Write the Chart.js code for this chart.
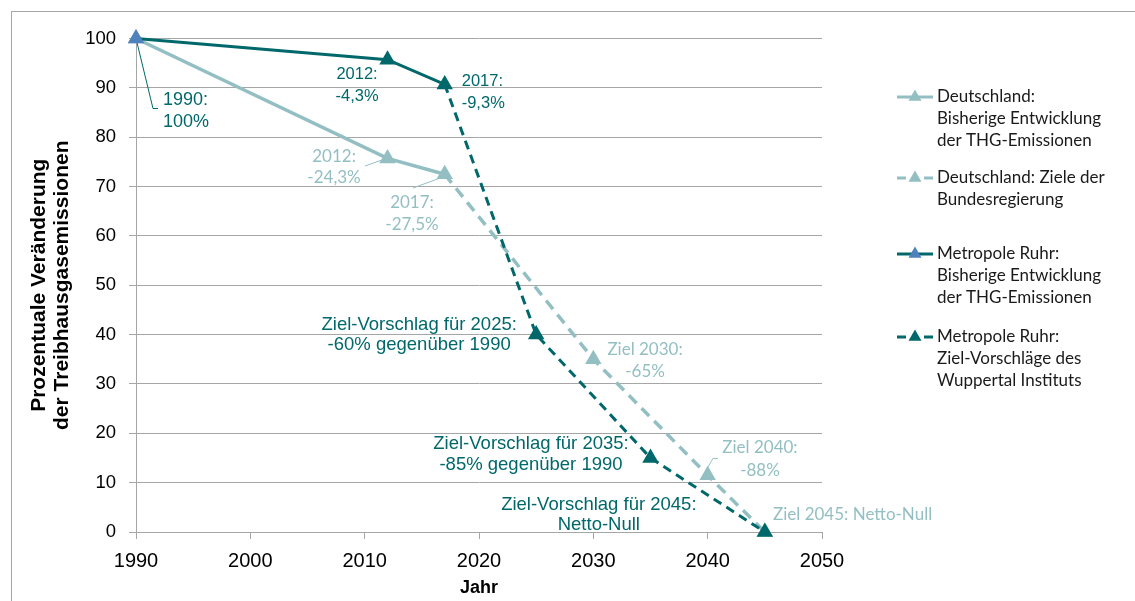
<!DOCTYPE html>
<html>
<head>
<meta charset="utf-8">
<script src="https://cdn.jsdelivr.net/npm/chart.js@4/dist/chart.umd.min.js"></script>
<style>
    html, body { margin: 0; padding: 0; background: #fff; }
    #wrap { position: relative; width: 1135px; height: 601px; }
    #frame { position: absolute; left: 11px; top: 11px; right: -5px; bottom: -5px;
             border-top: 1px solid #a6a6a6; border-left: 1px solid #a6a6a6; }
</style>
</head>
<body>
<div id="wrap">
    <div id="frame"></div>
    <canvas id="chart" width="1135" height="601"></canvas>
</div>
<script>
// Daten (Prozent gegenüber 1990)
const deHistYears   = [1990, 2012, 2017];
const deHistValues  = [100, 75.7, 72.5];
const deZielYears   = [2017, 2030, 2040, 2045];
const deZielValues  = [72.5, 35, 11.5, 0];
const ruhrHistYears  = [1990, 2012, 2017];
const ruhrHistValues = [100, 95.7, 90.7];
const ruhrZielYears  = [2017, 2025, 2035, 2045];
const ruhrZielValues = [90.7, 40, 15, 0];

const xTicks = [1990, 2000, 2010, 2020, 2030, 2040, 2050];
const yTicks = [0, 10, 20, 30, 40, 50, 60, 70, 80, 90, 100];

const legendTexts = [
    ["Deutschland:", "Bisherige Entwicklung", "der THG-Emissionen"],
    ["Deutschland: Ziele der", "Bundesregierung"],
    ["Metropole Ruhr:", "Bisherige Entwicklung", "der THG-Emissionen"],
    ["Metropole Ruhr:", "Ziel-Vorschläge des", "Wuppertal Instituts"]
];

const DARK = "#00686b";
const LIGHT = "#93bfc3";
const BLUE = "#4f81bd";

function toPoints(xs, ys) {
    return xs.map((x, i) => ({ x: x, y: ys[i] }));
}

// Beschriftungen: Ankerpunkt (Jahr, Wert), Versatz in Pixeln
const labels = [
    { x: 1990, y: 100, lines: ["1990:", "100%"], dx: 27, dy: [61.5, 83.5], align: "left", color: DARK, font: "18px 'Liberation Sans'",
      leader: [[0, 0], [17, 70], [22, 70]] },
    { x: 2012, y: 95.7, lines: ["2012:", "-4,3%"], dx: -30.5, dy: [15, 37], align: "center", color: DARK, font: "16.5px 'Liberation Sans'" },
    { x: 2017, y: 90.7, lines: ["2017:", "-9,3%"], dx: 17, dy: [-3, 19], align: "left", color: DARK, font: "16.5px 'Liberation Sans'" },
    { x: 2012, y: 75.7, lines: ["2012:", "-24,3%"], dx: -53.5, dy: [-1.5, 19.5], align: "center", color: LIGHT, font: "17px Lato",
      leader: [[-22.5, 7.6], [-4, 1]] },
    { x: 2017, y: 72.5, lines: ["2017:", "-27,5%"], dx: -32.7, dy: [28.8, 50.8], align: "center", color: LIGHT, font: "17px Lato",
      leader: [[-31.7, 13.8], [-1, 2.5]] },
    { x: 2025, y: 40, lines: ["Ziel-Vorschlag für 2025:", "-60% gegenüber 1990"], dx: -117, dy: [-9.6, 10.4], align: "center", color: DARK, font: "18.5px 'Liberation Sans'" },
    { x: 2035, y: 15, lines: ["Ziel-Vorschlag für 2035:", "-85% gegenüber 1990"], dx: -119.5, dy: [-14, 7], align: "center", color: DARK, font: "18.5px 'Liberation Sans'" },
    { x: 2045, y: 0, lines: ["Ziel-Vorschlag für 2045:", "Netto-Null"], dx: -166, dy: [-27, -7], align: "center", color: DARK, font: "18.5px 'Liberation Sans'" },
    { x: 2030, y: 35, lines: ["Ziel 2030:", "-65%"], dx: 51.7, dy: [-9.3, 12.7], align: "center", color: LIGHT, font: "17px Lato" },
    { x: 2040, y: 11.5, lines: ["Ziel 2040:", "-88%"], dx: 52.3, dy: [-27.8, -4.8], align: "center", color: LIGHT, font: "17px Lato",
      leader: [[-2.7, -3], [5.3, -16.8], [10.3, -16.8]] },
    { x: 2045, y: 0, lines: ["Ziel 2045: Netto-Null"], dx: 8.2, dy: [-17], align: "left", color: LIGHT, font: "17px Lato" }
];

const annotationPlugin = {
    id: "annotations",
    beforeDatasetsDraw(chart) {
        // Hilfslinien unter den Markern
        const ctx = chart.ctx;
        const xs = chart.scales.x;
        const ys = chart.scales.y;
        ctx.save();
        labels.forEach(l => {
            if (!l.leader) return;
            const px = xs.getPixelForValue(l.x);
            const py = ys.getPixelForValue(l.y);
            ctx.strokeStyle = l.color;
            ctx.lineWidth = 1;
            ctx.beginPath();
            l.leader.forEach((p, i) => {
                if (i === 0) ctx.moveTo(px + p[0], py + p[1]);
                else ctx.lineTo(px + p[0], py + p[1]);
            });
            ctx.stroke();
        });
        ctx.restore();
    },
    afterDatasetsDraw(chart) {
        const ctx = chart.ctx;
        const xs = chart.scales.x;
        const ys = chart.scales.y;
        ctx.save();
        labels.forEach(l => {
            const px = xs.getPixelForValue(l.x);
            const py = ys.getPixelForValue(l.y);
            ctx.font = l.font;
            ctx.fillStyle = l.color;
            ctx.textAlign = l.align;
            ctx.textBaseline = "middle";
            l.lines.forEach((t, i) => ctx.fillText(t, px + l.dx, py + l.dy[i]));
        });
        ctx.restore();
    }
};

const legendPlugin = {
    id: "sideLegend",
    afterDraw(chart) {
        const ctx = chart.ctx;
        const rows = [97, 178, 254, 337];
        ctx.save();
        chart.data.datasets.forEach((ds, i) => {
            const y = rows[i];
            ctx.strokeStyle = ds.borderColor;
            ctx.lineWidth = 3;
            ctx.beginPath();
            if (ds.borderDash && ds.borderDash.length) {
                ctx.moveTo(897, y); ctx.lineTo(906, y);
                ctx.moveTo(924, y); ctx.lineTo(933, y);
            } else {
                ctx.moveTo(897, y); ctx.lineTo(933, y);
            }
            ctx.stroke();
            const mc = i === 2 ? BLUE : ds.borderColor;
            const r = 7.5;
            ctx.fillStyle = mc;
            ctx.beginPath();
            ctx.moveTo(915, y - r);
            ctx.lineTo(915 + r * 0.866, y + r * 0.5);
            ctx.lineTo(915 - r * 0.866, y + r * 0.5);
            ctx.closePath();
            ctx.fill();
            ctx.font = "17px Lato";
            ctx.fillStyle = "#1a1a1a";
            ctx.textAlign = "left";
            ctx.textBaseline = "middle";
            legendTexts[i].forEach((t, k) => ctx.fillText(t, 937, y + k * 22));
        });
        ctx.restore();
    }
};

new Chart(document.getElementById("chart"), {
    type: "line",
    data: {
        datasets: [
            {
                label: "Deutschland: Bisherige Entwicklung der THG-Emissionen",
                data: toPoints(deHistYears, deHistValues),
                borderColor: LIGHT, backgroundColor: LIGHT,
                borderWidth: 3.5, pointStyle: "triangle", pointRadius: 9.5,
                pointBorderWidth: 0, order: 2, clip: false
            },
            {
                label: "Deutschland: Ziele der Bundesregierung",
                data: toPoints(deZielYears, deZielValues),
                borderColor: LIGHT, backgroundColor: LIGHT,
                borderWidth: 3.5, borderDash: [11, 7], pointStyle: "triangle",
                pointRadius: [0, 9.5, 9.5, 9.5], pointBorderWidth: 0, order: 3, clip: false
            },
            {
                label: "Metropole Ruhr: Bisherige Entwicklung der THG-Emissionen",
                data: toPoints(ruhrHistYears, ruhrHistValues),
                borderColor: DARK, backgroundColor: DARK,
                pointBackgroundColor: [BLUE, DARK, DARK],
                borderWidth: 3, pointStyle: "triangle", pointRadius: 9.5,
                pointBorderWidth: 0, order: 0, clip: false
            },
            {
                label: "Metropole Ruhr: Ziel-Vorschläge des Wuppertal Instituts",
                data: toPoints(ruhrZielYears, ruhrZielValues),
                borderColor: DARK, backgroundColor: DARK,
                borderWidth: 3, borderDash: [9, 6], pointStyle: "triangle",
                pointRadius: [0, 9.5, 9.5, 9.5], pointBorderWidth: 0, order: 1, clip: false
            }
        ]
    },
    options: {
        responsive: false,
        animation: false,
        events: [],
        layout: { padding: { left: 23.5, top: 38.5, right: 313, bottom: 0 } },
        plugins: {
            legend: { display: false },
            tooltip: { enabled: false }
        },
        scales: {
            x: {
                type: "linear",
                min: 1990, max: 2050,
                afterBuildTicks: s => { s.ticks = xTicks.map(v => ({ value: v })); },
                afterFit: s => { s.height = 69; },
                ticks: {
                    callback: v => String(v),
                    color: "#000",
                    font: { family: "'Liberation Sans'", size: 20 },
                    padding: 10,
                    maxRotation: 0
                },
                grid: { drawOnChartArea: false, drawTicks: true, tickLength: 7, color: "#a6a6a6" },
                border: { color: "#a6a6a6" },
                title: {
                    display: true, text: "Jahr", color: "#000",
                    font: { family: "'Liberation Sans'", size: 18, weight: "bold", lineHeight: 1.15 },
                    padding: { top: 0, bottom: 2.5 }
                }
            },
            y: {
                min: 0, max: 100,
                afterBuildTicks: s => { s.ticks = yTicks.map(v => ({ value: v })); },
                afterFit: s => { s.width = 136 - 23.5; },
                ticks: {
                    color: "#000",
                    font: { family: "'Liberation Sans'", size: 18.5 },
                    padding: 13
                },
                grid: { color: "#a6a6a6", tickLength: 7 },
                border: { color: "#a6a6a6" },
                title: {
                    display: true,
                    text: ["Prozentuale Veränderung", "der Treibhausgasemissionen"],
                    color: "#000",
                    font: { family: "'Liberation Sans'", size: 21, weight: "bold", lineHeight: 1.1 },
                    padding: { top: 4, bottom: 4 }
                }
            }
        }
    },
    plugins: [annotationPlugin, legendPlugin]
});
</script>
</body>
</html>
